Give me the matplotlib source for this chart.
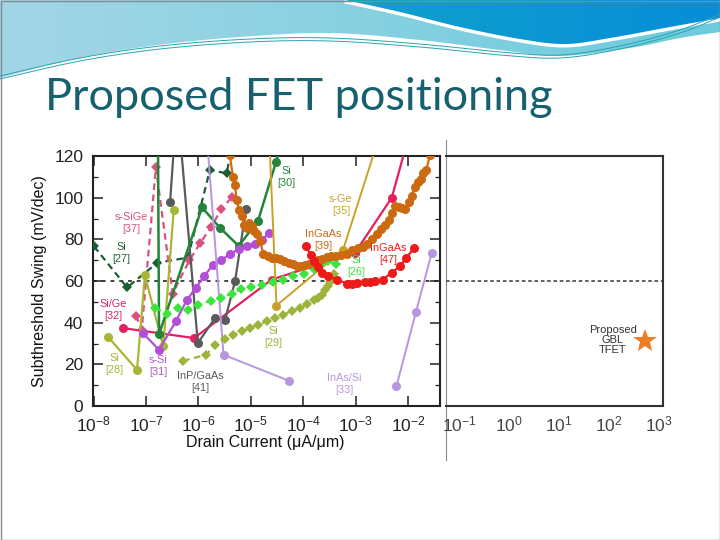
import numpy as np
import matplotlib
matplotlib.use("Agg")
import matplotlib.pyplot as plt
from matplotlib.patches import Polygon, Rectangle
from matplotlib.colors import LinearSegmentedColormap
from matplotlib.ticker import FixedLocator, LogLocator, NullFormatter, MultipleLocator

plt.rcParams['font.family'] = ['Liberation Sans', 'DejaVu Sans']
plt.rcParams['mathtext.fontset'] = 'custom'
plt.rcParams['mathtext.rm'] = 'Liberation Sans'
plt.rcParams['mathtext.it'] = 'Liberation Sans:italic'
plt.rcParams['mathtext.bf'] = 'Liberation Sans:bold'

# ---------------- data (log10 of drain current in uA/um, swing in mV/dec) ----------------
si27_logI = [-7.99, -7.36, -6.78, -6.20, -5.78, -5.46, -5.35]
si27_ss = [76.6, 56.9, 68.8, 71.2, 113.3, 111.7, 126]

si30_logI = [-6.77, -6.75, -5.93, -5.59, -5.23, -4.86, -4.52, -4.42]
si30_ss = [126, 34.5, 95.3, 85.6, 76.8, 89.0, 117.0, 126]

ssige37_logI = [-7.19, -7.08, -6.81, -6.49, -6.17, -5.96, -5.75, -5.56, -5.36]
ssige37_ss = [43.4, 36.6, 114.5, 54.0, 70.0, 78.4, 86.1, 94.6, 100.2]

sige32_logI = [-7.44, -6.08, -4.60, -3.01, -2.31, -1.98]
sige32_ss = [37.4, 32.6, 60.7, 73.6, 100.0, 130]

ssi31_logI = [-7.06, -6.75, -6.43, -6.22, -6.05, -5.89, -5.73, -5.57, -5.40, -5.22,
              -5.08, -4.92, -4.79, -4.65]
ssi31_ss = [35.0, 27.0, 40.6, 50.8, 56.7, 62.3, 67.5, 70.0, 72.8, 75.5,
            76.8, 77.8, 79.7, 83.0]

si28_logI = [-7.72, -7.17, -7.02, -6.67, -6.47]
si28_ss = [33.1, 17.3, 62.7, 28.6, 94.0]

inpgaas41_logI = [-6.54, -6.45, -6.35, -6.01, -5.68, -5.49, -5.30, -5.09]
inpgaas41_ss = [97.7, 130, 130, 30.2, 42.3, 41.4, 59.9, 94.6]

si26_logI = [-6.83, -6.59, -6.39, -6.20, -6.00, -5.75, -5.56, -5.36, -5.18, -5.00,
             -4.78, -4.57, -4.38, -4.19, -3.98, -3.80, -3.65, -3.52, -3.38]
si26_ss = [47.1, 44.2, 47.1, 46.3, 48.7, 50.5, 52.0, 54.0, 56.0, 57.3,
           58.3, 59.3, 60.7, 62.3, 63.3, 66.0, 68.5, 69.5, 68.0]

si29_logI = [-6.29, -5.85, -5.68, -5.50, -5.33, -5.17, -5.02, -4.86, -4.70, -4.54,
             -4.38, -4.22, -4.06, -3.92, -3.80, -3.71, -3.64, -3.58, -3.53, -3.49,
             -3.45, -3.42]
si29_ss = [21.7, 24.6, 29.4, 32.0, 34.2, 35.8, 37.4, 39.0, 40.6, 42.2,
           43.9, 45.5, 47.1, 49.0, 50.8, 52.0, 53.5, 55.5, 57.5, 59.5,
           61.5, 63.5]

ingaas39_logI = [-5.40, -5.34, -5.30, -5.27, -5.22, -5.17, -5.12, -5.08, -5.03, -4.98,
                 -4.93, -4.88, -4.82, -4.76, -4.68, -4.60, -4.52, -4.44, -4.36, -4.28,
                 -4.20, -4.12, -4.04, -3.96, -3.88, -3.80, -3.72, -3.64, -3.55, -3.46,
                 -3.38, -3.28, -3.17, -3.06, -2.95, -2.86, -2.78, -2.69, -2.60, -2.51,
                 -2.43, -2.36, -2.30, -2.24, -2.17, -2.11, -2.05, -1.99, -1.93, -1.87,
                 -1.81, -1.76, -1.71, -1.65, -1.58]
ingaas39_ss = [120.5, 110.0, 106.0, 99.0, 94.0, 91.0, 87.0, 85.5, 88.0, 86.5,
               84.0, 82.5, 79.0, 73.0, 72.0, 71.2, 71.0, 70.5, 69.8, 68.8,
               68.0, 67.0, 67.2, 67.8, 68.2, 69.0, 70.0, 70.5, 71.3, 71.8,
               72.0, 72.5, 73.0, 75.0, 76.0, 76.5, 78.0, 80.0, 82.4, 84.8,
               87.0, 89.5, 92.5, 95.8, 95.5, 95.0, 94.5, 98.0, 101.0, 105.0,
               107.5, 109.0, 112.0, 113.5, 120.5]

ingaas47_logI = [-3.95, -3.86, -3.79, -3.72, -3.64, -3.52, -3.36, -3.17, -3.07, -2.97,
                 -2.82, -2.72, -2.63, -2.48, -2.31, -2.15, -2.03, -1.88]
ingaas47_ss = [77.0, 72.5, 69.5, 66.5, 64.0, 62.3, 60.7, 58.8, 58.8, 59.1,
               59.4, 59.6, 59.9, 60.7, 64.0, 67.2, 71.2, 76.0]

inassi33a_logI = [-5.84, -5.52, -4.28]
inassi33a_ss = [130, 24.6, 12.2]
inassi33b_logI = [-2.22, -1.85, -1.55]
inassi33b_ss = [9.6, 45.0, 73.3]

sge35_logI = [-4.65, -4.51, -3.24, -2.54]
sge35_ss = [130, 48.2, 74.9, 130]

gbl_logI = [2.72]
gbl_ss = [31.0]

left_ticks_exp = [-8, -7, -6, -5, -4, -3, -2]
right_ticks_exp = [-1, 0, 1, 2, 3]
y_ticks = [0, 20, 40, 60, 80, 100, 120]

# ---------------- figure ----------------
fig = plt.figure(figsize=(7.2, 5.4), dpi=100)
fig.patch.set_facecolor('white')

bg = fig.add_axes([0, 0, 1, 1], zorder=0)
bg.set_xlim(0, 720)
bg.set_ylim(540, 0)
bg.axis('off')


def smooth(pts, n=20):
    pts = np.asarray(pts, float)
    p = np.vstack([pts[0], pts, pts[-1]])
    out = []
    for i in range(1, len(p) - 2):
        p0, p1, p2, p3 = p[i - 1], p[i], p[i + 1], p[i + 2]
        for t in np.linspace(0, 1, n, endpoint=False):
            t2, t3 = t * t, t * t * t
            out.append(0.5 * ((2 * p1) + (-p0 + p2) * t + (2 * p0 - 5 * p1 + 4 * p2 - p3) * t2
                              + (-p0 + 3 * p1 - 3 * p2 + p3) * t3))
    out.append(pts[-1])
    return np.array(out)


def grad_fill(ax, poly_pts, c1, c2, z):
    poly = Polygon(poly_pts, closed=True, facecolor='none', edgecolor='none', zorder=z)
    ax.add_patch(poly)
    cmap = LinearSegmentedColormap.from_list('g', [c1, c2])
    g = np.linspace(0, 1, 256).reshape(1, -1)
    im = ax.imshow(g, cmap=cmap, extent=[0, 720, 540, 0], aspect='auto', zorder=z)
    im.set_clip_path(poly)


# light wave band
light_curve = smooth([(0, 78), (70, 60), (150, 46), (240, 37), (330, 33), (420, 40),
                      (500, 50), (560, 56), (630, 48), (680, 38), (720, 32)])
light_poly = np.vstack([[(0, 0), (720, 0)], light_curve[::-1]])
grad_fill(bg, light_poly, '#a3d6e6', '#6ccbdc', 1)

# dark wave
dark_curve = smooth([(720, 18), (670, 27), (610, 38), (565, 44), (520, 39), (460, 27),
                     (400, 12), (345, 0)])
dark_poly = np.vstack([[(720, 0)], dark_curve, [(345, 0)]])
bg.add_patch(Polygon(dark_poly, closed=True, facecolor='none', edgecolor='white', lw=5, zorder=2))
grad_fill(bg, dark_poly, '#17b4c0', '#078dd8', 3)

# thin lines
for off in (0, 3):
    c = smooth([(0, 76 + off), (80, 58 + off), (160, 46 + off), (250, 39 + off), (330, 38 + off),
                (420, 44 + off), (500, 52 + off), (560, 55 + off), (620, 46 + off),
                (680, 30 + off), (720, 14 + off)])
    bg.plot(c[:, 0], c[:, 1], color='#2aa3b3', lw=0.7, zorder=4)

bg.add_patch(Rectangle((0.5, 0.5), 719, 539, facecolor='none', edgecolor='#7d8d93', lw=1, zorder=5))

fig.text(45 / 720, 1 - 110 / 540, 'Proposed FET positioning', fontsize=32.5, color='#17606e',
         family=['Lato', 'DejaVu Sans'], va='baseline', ha='left')

# ---------------- left chart ----------------
ax = fig.add_axes([93 / 720, (540 - 406) / 540, (440 - 93) / 720, (406 - 156) / 540], zorder=2)
ax.patch.set_alpha(0)
ax.set_xscale('log')
ax.set_xlim(10 ** -8.01, 10 ** -1.39)
ax.set_ylim(0, 120)


def plot_series(lx, ss, color, marker, ls, ms=5.5, lw=1.6, z=3):
    ax.plot(10.0 ** np.array(lx), ss, color=color, marker=marker, ls=ls, ms=ms, lw=lw,
            markeredgewidth=0, zorder=z, clip_on=True)


ax.axhline(60, color='#444444', ls=(0, (2, 2.5)), lw=1.4, zorder=1)

plot_series(si27_logI, si27_ss, '#1b5e32', 'D', (0, (3, 2)), ms=5)
plot_series(ssige37_logI, ssige37_ss, '#d9527f', 'D', (0, (3, 2)), ms=5)
plot_series(sige32_logI, sige32_ss, '#e3225c', 'o', '-', ms=6.5)
plot_series(si28_logI, si28_ss, '#a9b535', 'o', '-', ms=6.5)
plot_series(inpgaas41_logI, inpgaas41_ss, '#5a5a5a', 'o', '-', ms=6.5)
plot_series(si30_logI, si30_ss, '#23843a', 'o', '-', ms=6.5, lw=1.8)
plot_series(ssi31_logI, ssi31_ss, '#b34fd6', 'o', '-', ms=6.5)
plot_series(inassi33a_logI, inassi33a_ss, '#b896dd', 'o', '-', ms=6.5, lw=1.4)
plot_series(inassi33b_logI, inassi33b_ss, '#b896dd', 'o', '-', ms=6.5, lw=1.4)
plot_series(sge35_logI, sge35_ss, '#c8a228', 'o', '-', ms=6.5, lw=1.4)
plot_series(si29_logI, si29_ss, '#9db43c', 'D', (0, (3, 2)), ms=5)
plot_series(si26_logI, si26_ss, '#3ee43e', 'D', (0, (3, 2)), ms=5)
plot_series(ingaas39_logI, ingaas39_ss, '#cc6a12', 'o', '-', ms=6.5)
plot_series(ingaas47_logI, ingaas47_ss, '#ee1a1a', 'o', '-', ms=6.5)

labels = [
    ('s-SiGe\n[37]', -7.27, 88.0, '#d9527f'),
    ('Si\n[27]', -7.47, 73.3, '#1b5e32'),
    ('Si/Ge\n[32]', -7.62, 45.9, '#e3225c'),
    ('Si\n[28]', -7.60, 20.2, '#a9b535'),
    ('s-Si\n[31]', -6.77, 19.3, '#b34fd6'),
    ('InP/GaAs\n[41]', -5.97, 11.3, '#5a5a5a'),
    ('Si\n[30]', -4.32, 110.0, '#23843a'),
    ('s-Ge\n[35]', -3.28, 96.4, '#c8a228'),
    ('InGaAs\n[39]', -3.62, 79.5, '#cc6a12'),
    ('InGaAs\n[47]', -2.38, 72.9, '#ee1a1a'),
    ('Si\n[26]', -2.98, 67.0, '#3ee43e'),
    ('Si\n[29]', -4.57, 33.3, '#9db43c'),
    ('InAs/Si\n[33]', -3.21, 10.6, '#b896dd'),
]
for txt, lx, s, c in labels:
    ax.text(10 ** lx, s, txt, color=c, fontsize=7.8, ha='center', va='center',
            linespacing=1.25, zorder=6)

ax.set_yticks(y_ticks)
ax.yaxis.set_minor_locator(MultipleLocator(10))
ax.set_xticks([10.0 ** e for e in left_ticks_exp])
ax.set_xticklabels([r'$10^{%d}$' % e for e in left_ticks_exp])
ax.xaxis.set_minor_locator(LogLocator(base=10, subs=np.arange(2, 10)))
ax.xaxis.set_minor_formatter(NullFormatter())
ax.tick_params(which='both', direction='in', top=True, right=True, colors='#222222')
ax.tick_params(which='major', length=7, width=1.1, labelsize=12.5)
ax.tick_params(which='minor', length=3.5, width=0.9)
ax.tick_params(axis='y', pad=7)
ax.tick_params(axis='x', pad=6)
for sp in ax.spines.values():
    sp.set_color('#222222')
    sp.set_linewidth(1.5)
ax.set_ylabel('Subthreshold Swing (mV/dec)', fontsize=11.5, color='#111111')
ax.yaxis.set_label_coords(-0.132, 0.5)
ax.set_xlabel('Drain Current (μA/μm)', fontsize=11.5, color='#111111')
ax.xaxis.set_label_coords(0.4957, -0.118)

# ---------------- right panel ----------------
ax2 = fig.add_axes([446 / 720, (540 - 406) / 540, (663 - 446) / 720, (406 - 156) / 540], zorder=2)
ax2.patch.set_alpha(0)
ax2.set_xscale('log')
ax2.set_xlim(10 ** -1.26, 10 ** 3.08)
ax2.set_ylim(0, 120)
ax2.axhline(60, color='#555555', ls=(0, (2, 1.5)), lw=1.3, zorder=1)
ax2.plot(10.0 ** np.array(gbl_logI), gbl_ss, marker='*', color='#ee7d25', ms=18,
         markeredgewidth=0, ls='none', zorder=4)
ax2.text(10 ** 2.08, 31.7, 'Proposed\nGBL\nTFET', fontsize=8, color='#333333', ha='center',
         va='center', linespacing=1.05)
ax2.set_xticks([10.0 ** e for e in right_ticks_exp])
ax2.set_xticklabels([r'$10^{%d}$' % e for e in right_ticks_exp])
ax2.xaxis.set_minor_locator(FixedLocator([]))
ax2.set_yticks([])
ax2.tick_params(axis='x', length=0, pad=6, labelsize=12.5, labelcolor='#444444')
ax2.spines['left'].set_visible(False)
for k in ('top', 'right', 'bottom'):
    ax2.spines[k].set_color('#333333')
    ax2.spines[k].set_linewidth(1.5)

bg.plot([446, 446], [140, 460], color='#8a8a8a', lw=0.8, zorder=5)

fig.savefig('out.png', dpi=100)
